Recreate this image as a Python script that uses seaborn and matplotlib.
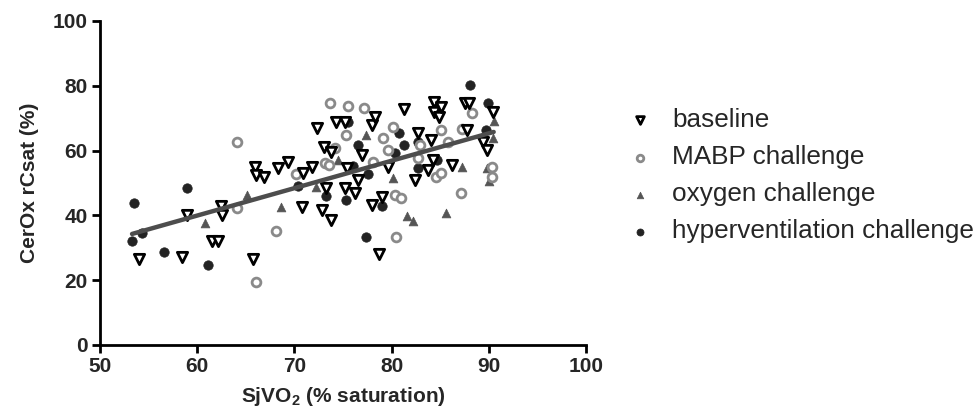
import numpy as np
import pandas as pd
import matplotlib
matplotlib.use("Agg")
import matplotlib.pyplot as plt
import seaborn as sns

# ---- data ----
baseline_x = [54.0, 58.4, 59.0, 61.5, 62.1, 62.4, 62.6, 65.7, 65.9, 66.1, 66.9, 68.3, 69.3,
              70.9, 70.8, 71.8, 72.3, 72.8, 73.0, 73.3, 73.8, 73.8, 74.3, 75.2, 75.2, 75.4,
              76.2, 76.5, 77.0, 78.0, 78.0, 78.3, 78.7, 79.0, 79.6, 81.3, 82.4, 82.7, 83.7,
              84.1, 84.3, 84.4, 84.4, 84.9, 85.1, 86.2, 87.5, 88.0, 87.8, 89.4, 89.8, 90.4]
baseline_y = [26.5, 27.2, 40.1, 32.1, 32.1, 42.9, 40.0, 26.5, 54.9, 52.5, 51.9, 54.6, 56.5,
              53.1, 42.6, 54.9, 67.0, 41.7, 61.1, 48.5, 38.6, 59.6, 68.8, 68.8, 48.5, 54.6,
              46.9, 50.9, 58.6, 67.9, 43.2, 70.4, 28.1, 45.7, 54.9, 72.8, 50.9, 65.4, 54.0,
              63.3, 57.1, 75.0, 71.9, 70.4, 73.5, 55.6, 74.7, 74.7, 66.4, 62.7, 60.2, 71.9]

mabp_x = [64.1, 64.1, 66.0, 68.1, 70.2, 73.1, 73.6, 73.7, 74.2, 75.3, 75.5, 77.2, 78.1, 79.1,
          79.6, 80.1, 80.3, 80.5, 81.0, 82.7, 82.9, 84.6, 85.1, 85.1, 85.8, 87.1, 87.2, 88.3,
          90.3, 90.3]
mabp_y = [62.7, 42.3, 19.4, 35.2, 52.8, 56.2, 55.6, 74.7, 60.8, 64.8, 73.8, 73.1, 56.5, 63.9,
          60.2, 67.3, 46.3, 33.3, 45.4, 57.7, 61.7, 51.9, 53.1, 66.4, 62.7, 46.9, 66.7, 71.6,
          54.9, 51.9]

oxygen_x = [60.8, 65.1, 68.6, 72.2, 74.5, 77.4, 80.1, 81.6, 82.2, 85.6, 87.2, 89.8, 90.0,
            90.4, 90.5]
oxygen_y = [37.7, 46.3, 42.6, 48.6, 57.1, 64.8, 51.5, 39.8, 38.3, 40.6, 55.0, 54.7, 50.6,
            63.9, 69.2]

hyper_x = [53.3, 53.5, 54.3, 56.6, 59.0, 61.1, 70.4, 73.3, 75.3, 75.5, 76.0, 76.5, 77.4,
           77.6, 79.0, 80.3, 80.8, 81.3, 82.7, 82.7, 84.7, 88.1, 89.9, 89.7]
hyper_y = [32.1, 43.8, 34.5, 28.7, 48.5, 24.7, 49.1, 46.0, 44.6, 68.8, 55.2, 61.7, 33.3,
           52.8, 42.8, 59.3, 65.4, 61.7, 62.7, 54.6, 57.1, 80.2, 74.7, 66.4]

series_names = ["baseline", "MABP challenge", "oxygen challenge", "hyperventilation challenge"]
x_ticks = [50, 60, 70, 80, 90, 100]
y_ticks = [0, 20, 40, 60, 80, 100]

# ---- style ----
sns.set_style("ticks")
plt.rcParams["font.family"] = ["Liberation Sans", "DejaVu Sans"]
plt.rcParams["mathtext.fontset"] = "custom"
plt.rcParams["mathtext.rm"] = "Liberation Sans:bold"
plt.rcParams["mathtext.bf"] = "Liberation Sans:bold"

fig = plt.figure(figsize=(9.8, 4.2), dpi=100)
ax = fig.add_axes([0.102, 0.179, 0.496, 0.771])

frames = {
    "baseline": pd.DataFrame({"x": baseline_x, "y": baseline_y}),
    "MABP challenge": pd.DataFrame({"x": mabp_x, "y": mabp_y}),
    "oxygen challenge": pd.DataFrame({"x": oxygen_x, "y": oxygen_y}),
    "hyperventilation challenge": pd.DataFrame({"x": hyper_x, "y": hyper_y}),
}

sns.scatterplot(data=frames["hyperventilation challenge"], x="x", y="y", ax=ax, marker="o",
                s=46, facecolor="#232323", edgecolor="#232323", linewidth=0.5,
                label="hyperventilation challenge", zorder=3)
sns.scatterplot(data=frames["oxygen challenge"], x="x", y="y", ax=ax, marker="^",
                s=40, facecolor="#555555", edgecolor="#555555", linewidth=0.5,
                label="oxygen challenge", zorder=3)
sns.scatterplot(data=frames["MABP challenge"], x="x", y="y", ax=ax, marker="o",
                s=40, facecolor="white", edgecolor="#8a8a8a", linewidth=2.0,
                label="MABP challenge", zorder=4)
sns.scatterplot(data=frames["baseline"], x="x", y="y", ax=ax, marker="v",
                s=55, facecolor="white", edgecolor="black", linewidth=2.0,
                label="baseline", zorder=5)

all_df = pd.concat(frames.values(), ignore_index=True)
sns.regplot(data=all_df, x="x", y="y", ax=ax, scatter=False, ci=None, truncate=True,
            line_kws=dict(color="#4d4d4d", lw=3.2, zorder=6))

ax.set_xlim(50, 100)
ax.set_ylim(0, 100)
ax.set_xticks(x_ticks)
ax.set_yticks(y_ticks)
ax.set_xticklabels([str(t) for t in x_ticks], fontsize=15, fontweight="bold")
ax.set_yticklabels([str(t) for t in y_ticks], fontsize=15, fontweight="bold")
ax.tick_params(axis="both", direction="out", length=6, width=2, color="black", pad=3)
for side in ["left", "bottom"]:
    ax.spines[side].set_linewidth(2)
    ax.spines[side].set_color("black")
sns.despine(ax=ax)
ax.set_xlabel("SjVO$_\\mathbf{2}$ (% saturation)", fontsize=15, fontweight="bold", labelpad=6)
ax.set_ylabel("CerOx rCsat (%)", fontsize=15, fontweight="bold", labelpad=10)

handles, labels = ax.get_legend_handles_labels()
if ax.get_legend() is not None:
    ax.get_legend().remove()
order = [labels.index(n) for n in series_names]
leg = fig.legend([handles[i] for i in order], [labels[i] for i in order],
                 loc="upper left", bbox_to_anchor=(0.627, 0.767), frameon=False,
                 fontsize=18.8, markerscale=0.75, handletextpad=0.66, labelspacing=0.5,
                 handlelength=1.15, borderaxespad=0)

fig.savefig("out.png", dpi=100)
